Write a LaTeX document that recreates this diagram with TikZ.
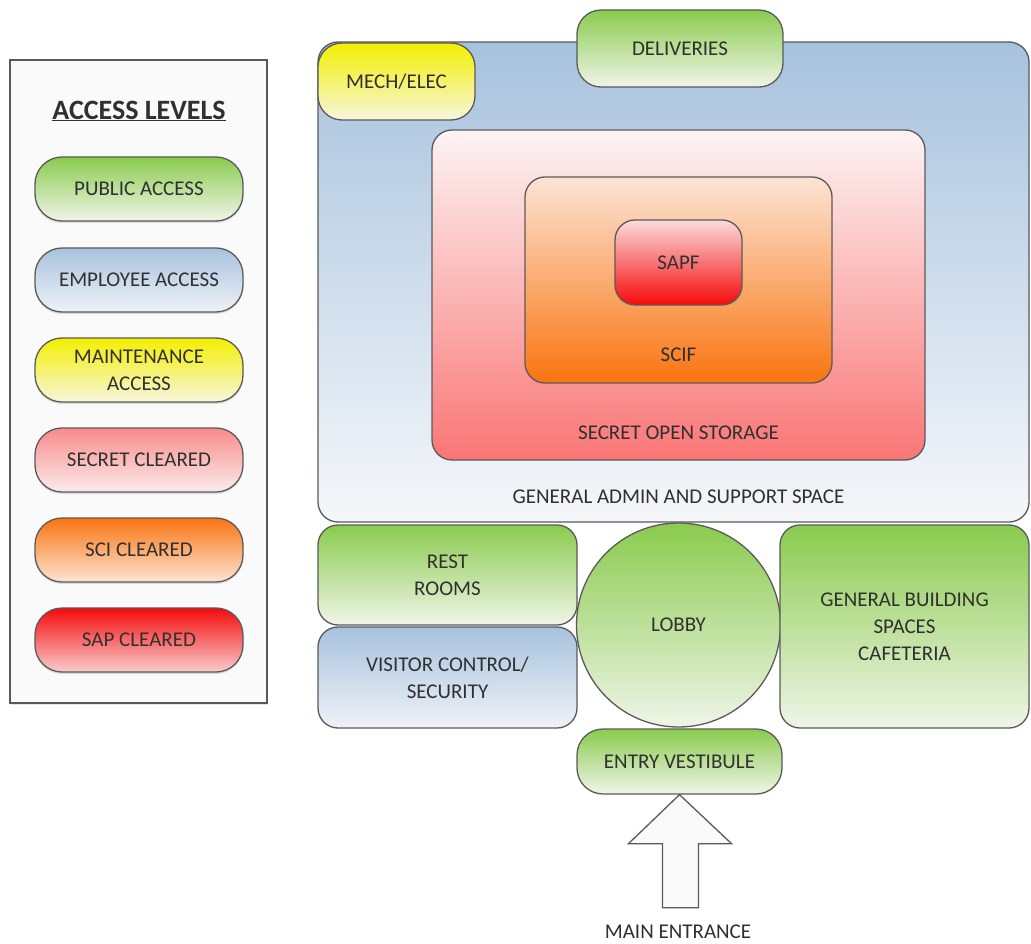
\documentclass[tikz,border=0pt]{standalone}
\usepackage{fontspec}
\setmainfont{Carlito}
\usetikzlibrary{shadows,shapes.geometric}
\definecolor{txt}{HTML}{303030}
\definecolor{edge}{HTML}{5A5A5A}
\definecolor{gTop}{HTML}{8ACB4E}
\definecolor{gBot}{HTML}{F0F5E8}
\definecolor{bTop}{HTML}{A7C2DE}
\definecolor{bBot}{HTML}{EFF2F7}
\definecolor{yTop}{HTML}{F3EF00}
\definecolor{yBot}{HTML}{F7F6DE}
\definecolor{pTop}{HTML}{F98A8A}
\definecolor{pBot}{HTML}{FBECEC}
\definecolor{oTop}{HTML}{FA7410}
\definecolor{oBot}{HTML}{FBE4D4}
\definecolor{rTop}{HTML}{F50A0A}
\definecolor{rBot}{HTML}{F9CCCC}
\newcommand{\lblfont}{\fontsize{21}{27}\selectfont}
\tikzset{
  box/.style={draw=edge, line width=1.3pt, rounded corners=20pt, align=center,
    text=txt, font=\lblfont, inner sep=0pt},
  green/.style={top color=gTop, bottom color=gBot},
  blue/.style={top color=bTop, bottom color=bBot},
  yellow/.style={top color=yTop, bottom color=yBot},
  pink/.style={top color=pTop, bottom color=pBot},
  orange/.style={top color=oTop, bottom color=oBot},
  red/.style={top color=rTop, bottom color=rBot},
  pill/.style={box, rounded corners=27pt, minimum width=208pt, minimum height=64pt,
    drop shadow={shadow xshift=0pt, shadow yshift=-2pt, opacity=.25}},
  lbl/.style={text=txt, font=\lblfont, align=center, inner sep=0pt},
  blockarrow/.style={draw=edge, line width=1.3pt, fill=gray!4, line join=miter},
}
\begin{document}
\begin{tikzpicture}[x=1pt,y=-1pt]
\useasboundingbox[fill=white] (0,0) rectangle (1031,944);

% legend
\node[draw=gray!70!black, line width=2pt, fill=gray!4, minimum width=257pt, minimum height=643pt, inner sep=0pt,
  drop shadow={shadow xshift=1pt, shadow yshift=-2pt, opacity=.2}] (leg) at (138.5,381.5) {};
\node[text=txt, font=\bfseries\fontsize{28}{32}\selectfont] (title) at (139,111) {\underline{ACCESS LEVELS}};
\node[pill, green]  (pub) at (139,189) {PUBLIC ACCESS};
\node[pill, blue]   (emp) at (139,280) {EMPLOYEE ACCESS};
\node[pill, yellow] (mnt) at (139,370) {MAINTENANCE\\ACCESS};
\node[pill, pink]   (sec) at (139,460) {SECRET CLEARED};
\node[pill, orange] (sci) at (139,550) {SCI CLEARED};
\node[pill, red]    (sap) at (139,640) {SAP CLEARED};

% main building
\node[box, top color=bTop, bottom color=bBot!60!white, minimum width=711pt, minimum height=480pt] (main) at (673.5,282) {};
\node[box, top color=pBot!60!white, bottom color=pTop!85!red, minimum width=493pt, minimum height=330pt] (sos) at (678.5,295) {};
\node[box, top color=oBot, bottom color=oTop, minimum width=307pt, minimum height=206pt] (scif) at (678.5,280) {};
\node[box, top color=rBot!70!white, bottom color=rTop, minimum width=127pt, minimum height=85pt] (sapf) at (678.5,262.5) {SAPF};
\node[lbl] (scifl) at (678.5,355) {SCIF};
\node[lbl] (sosl) at (678.5,433) {SECRET OPEN STORAGE};
\node[lbl] (mainl) at (678.5,497) {GENERAL ADMIN AND SUPPORT SPACE};

\node[box, yellow, rounded corners=24pt, minimum width=157pt, minimum height=77pt] (mech) at (396.5,81.5) {MECH/ELEC};
\node[box, green, rounded corners=24pt, minimum width=206pt, minimum height=77pt] (deliv) at (680,48.5) {DELIVERIES};

% ground floor
\node[box, green, minimum width=259pt, minimum height=100pt] (rest) at (447.5,575) {REST\\ROOMS};
\node[box, blue, minimum width=259pt, minimum height=101pt] (vis) at (447.5,677.5) {VISITOR CONTROL/\\SECURITY};
\node[box, green, circle, minimum size=204pt] (lobby) at (678.5,625) {LOBBY};
\node[box, green, minimum width=249pt, minimum height=203pt] (gen) at (904.5,626.5) {GENERAL BUILDING\\SPACES\\CAFETERIA};
\node[box, green, rounded corners=26pt, minimum width=205pt, minimum height=65pt] (ev) at (679.5,761.5) {ENTRY VESTIBULE};

% entrance arrow
\draw[blockarrow] (ev.south) -- ++(52,49) -- ++(-33,0) -- ++(0,64) -- ++(-36,0) -- ++(0,-64) -- ++(-34,0) -- cycle;
\node[lbl] (entr) at (678,932) {MAIN ENTRANCE};
\end{tikzpicture}
\end{document}
